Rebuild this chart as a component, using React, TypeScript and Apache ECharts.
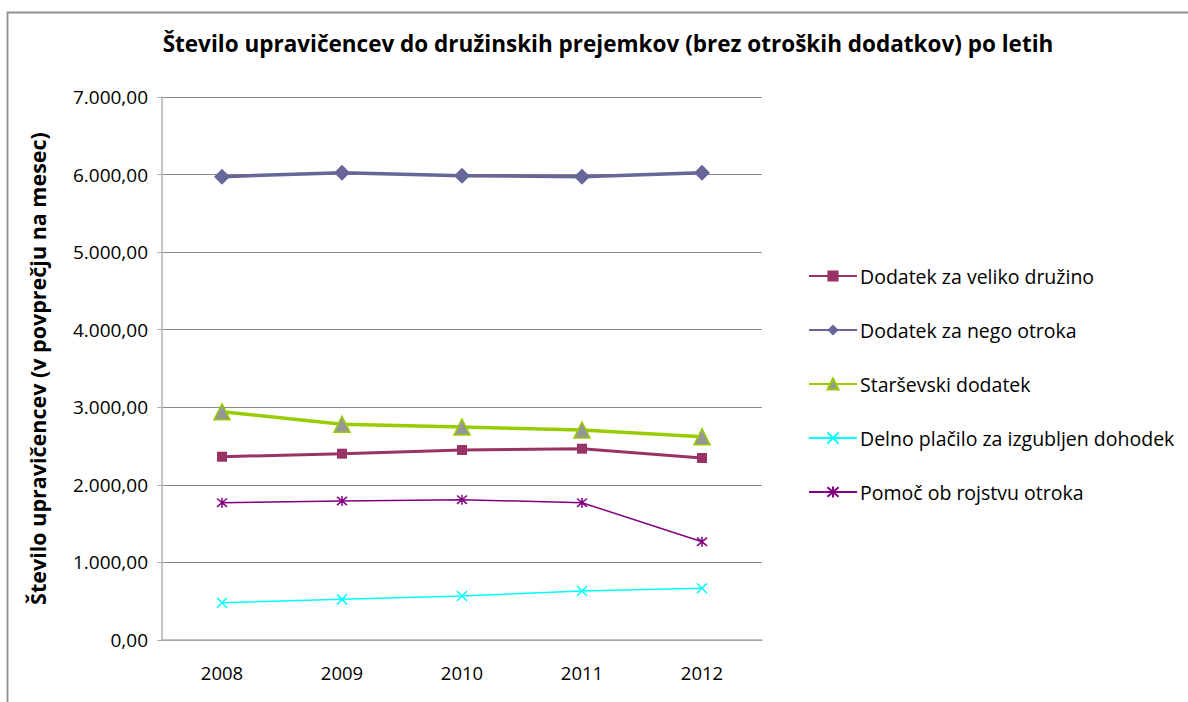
import React, { useEffect, useRef } from "react";
import * as echarts from "echarts";

const years = ["2008", "2009", "2010", "2011", "2012"];
const velikoDruzino = [2363, 2402, 2449, 2466, 2346];
const negoOtroka = [5973, 6024, 5986, 5973, 6024];
const starsevski = [2943, 2781, 2746, 2707, 2621];
const delnoPlacilo = [481, 524, 567, 632, 666];
const pomocRojstvo = [1770, 1792, 1809, 1770, 1267];

const FONT = "'Open Sans', 'Noto Sans', sans-serif";

function fmt(v: number): string {
  const fixed = v.toFixed(2);
  const [intPart, dec] = fixed.split(".");
  const withDots = intPart.replace(/\B(?=(\d{3})+(?!\d))/g, ".");
  return withDots + "," + dec;
}

export default function App() {
  const ref = useRef<HTMLDivElement>(null);
  useEffect(() => {
    if (!ref.current) return;
    const chart = echarts.init(ref.current, undefined, { renderer: "svg" });
    const xPath = "path://M0,0L10,10M10,0L0,10";
    const starPath = "path://M0,0L10,10M10,0L0,10M5,-1L5,11";
    chart.setOption({
      animation: false,
      backgroundColor: "#ffffff",
      textStyle: { fontFamily: FONT },
      title: {
        text: "Število upravičencev do družinskih prejemkov (brez otroških dodatkov) po letih",
        left: 603,
        top: 27,
        textAlign: "center",
        textStyle: { fontFamily: FONT, fontSize: 22.5, fontWeight: "bold", color: "#000" },
      },
      graphic: [
        {
          type: "polyline",
          shape: { points: [[7.5, 702], [7.5, 12.5], [1188, 12.5]] },
          style: { stroke: "#8f8f8f", lineWidth: 1.8, fill: "none" },
          silent: true,
        },
      ],
      grid: { left: 162, right: 426, top: 97, bottom: 62 },
      legend: {
        orient: "vertical",
        left: 808,
        top: 266,
        padding: 0,
        itemWidth: 48,
        itemHeight: 14,
        itemGap: 34,
        textStyle: { fontFamily: FONT, fontSize: 19.5, color: "#000", padding: [0, 0, 0, -2] },
        data: [
          "Dodatek za veliko družino",
          "Dodatek za nego otroka",
          "Starševski dodatek",
          "Delno plačilo za izgubljen dohodek",
          "Pomoč ob rojstvu otroka",
        ],
      },
      xAxis: {
        type: "category",
        data: years,
        boundaryGap: true,
        axisLine: { lineStyle: { color: "#b0b0b0", width: 1.5 } },
        axisTick: { show: false },
        axisLabel: { fontFamily: FONT, fontSize: 18.5, color: "#000", margin: 23 },
      },
      yAxis: {
        type: "value",
        min: 0,
        max: 7000,
        interval: 1000,
        name: "Število upravičencev (v povprečju na mesec)",
        nameLocation: "middle",
        nameGap: 114,
        nameTextStyle: { fontFamily: FONT, fontSize: 21.5, fontWeight: "bold", color: "#000" },
        axisLine: { show: true, lineStyle: { color: "#b0b0b0", width: 1.5 } },
        axisTick: { show: true, length: 5, lineStyle: { color: "#b0b0b0" } },
        axisLabel: { fontFamily: FONT, fontSize: 19, color: "#000", margin: 14, formatter: (v: number) => fmt(v) },
        splitLine: { lineStyle: { color: "#8a8a8a", width: 1 } },
      },
      series: [
        {
          name: "Dodatek za veliko družino",
          type: "line",
          data: velikoDruzino,
          symbol: "rect",
          symbolSize: 10,
          lineStyle: { color: "#993366", width: 3 },
          itemStyle: { color: "#993366" },
          z: 3,
        },
        {
          name: "Dodatek za nego otroka",
          type: "line",
          data: negoOtroka,
          symbol: "diamond",
          symbolSize: 16,
          lineStyle: { color: "#666699", width: 3.5 },
          itemStyle: { color: "#666699" },
          z: 3,
        },
        {
          name: "Starševski dodatek",
          type: "line",
          data: starsevski,
          symbol: "triangle",
          symbolSize: 16,
          lineStyle: { color: "#99CC00", width: 3.5 },
          itemStyle: { color: "#969696", borderColor: "#99CC00", borderWidth: 1.5 },
          z: 3,
        },
        {
          name: "Delno plačilo za izgubljen dohodek",
          type: "line",
          data: delnoPlacilo,
          symbol: xPath,
          symbolSize: 10,
          lineStyle: { color: "#00FFFF", width: 1.5 },
          itemStyle: { color: "none", borderColor: "#00FFFF", borderWidth: 1.5 },
          z: 3,
        },
        {
          name: "Pomoč ob rojstvu otroka",
          type: "line",
          data: pomocRojstvo,
          symbol: starPath,
          symbolSize: 10,
          lineStyle: { color: "#800080", width: 1.5 },
          itemStyle: { color: "none", borderColor: "#800080", borderWidth: 1.5 },
          z: 3,
        },
      ],
    });
    return () => chart.dispose();
  }, []);
  return (
    <div
      ref={ref}
      style={{ position: "absolute", left: 0, top: 0, width: 1188, height: 702 }}
    />
  );
}
